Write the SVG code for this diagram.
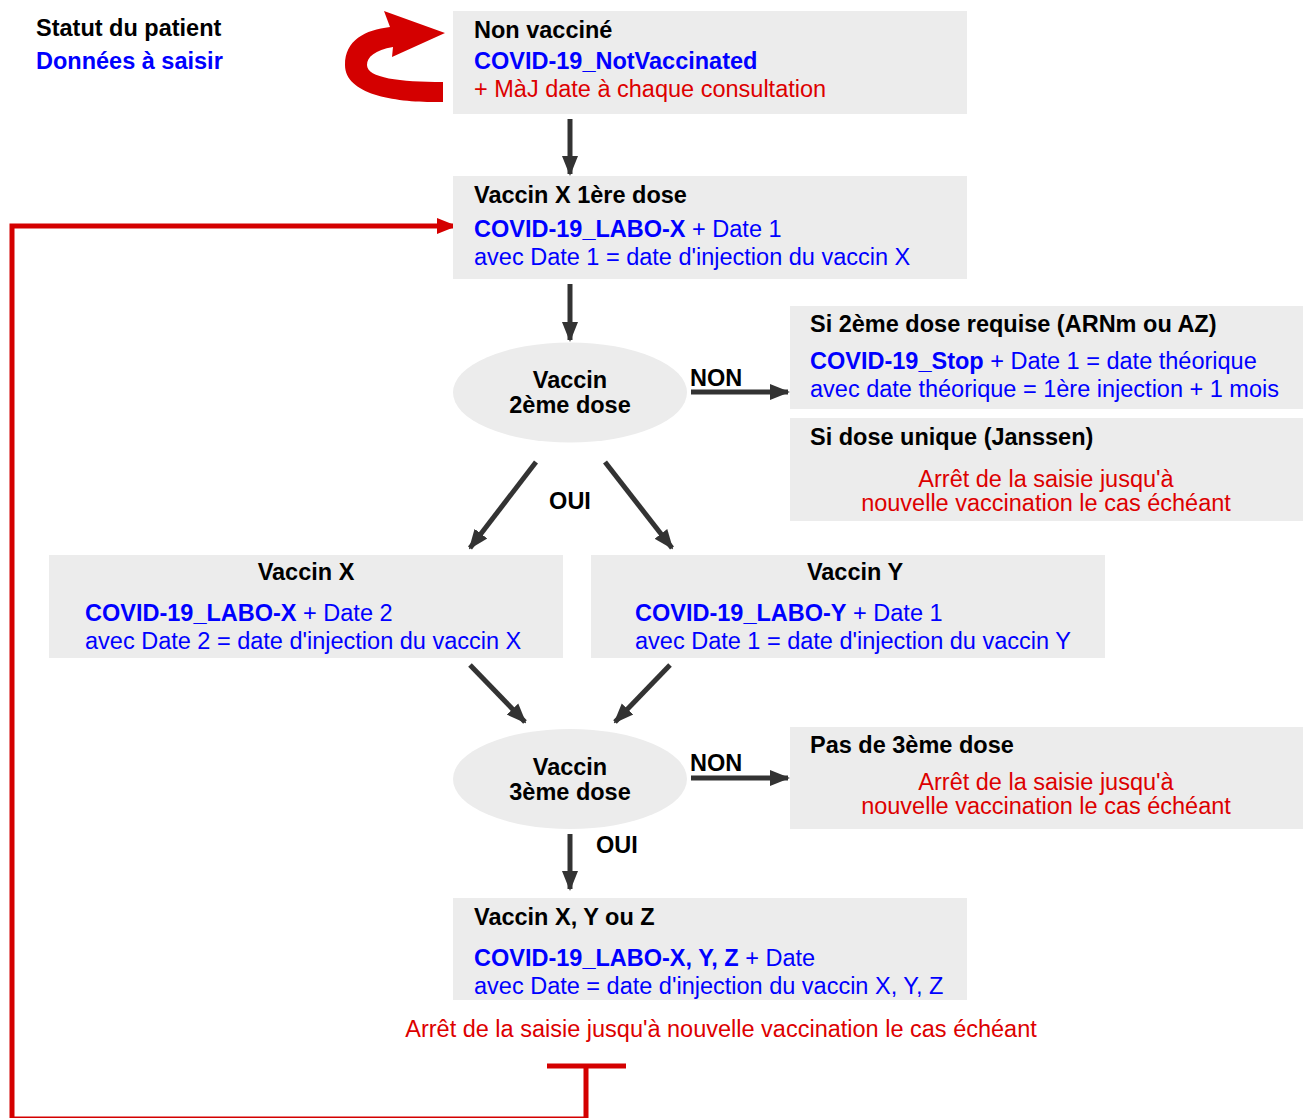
<svg xmlns="http://www.w3.org/2000/svg" width="1303" height="1118" viewBox="0 0 1303 1118">
<style>
text{font-family:"Liberation Sans",Arial,sans-serif;font-size:23.5px}
.b{font-weight:bold}
.k{fill:#000}
.bl{fill:#0000ff}
.r{fill:#dd0000}
.box{fill:#ececec}
.c{text-anchor:middle}
.dk{stroke:#333;stroke-width:5;fill:none}
.rl{stroke:#d40000;stroke-width:5;fill:none}
</style>
<defs>
<marker id="ah" markerUnits="userSpaceOnUse" markerWidth="20" markerHeight="20" viewBox="0 0 20 20" refX="18" refY="10" orient="auto">
<path d="M0,2 L20,10 L0,18 Z" fill="#333"/>
</marker>
<marker id="ahr" markerUnits="userSpaceOnUse" markerWidth="20" markerHeight="20" viewBox="0 0 20 20" refX="18" refY="10" orient="auto">
<path d="M0,2 L20,10 L0,18 Z" fill="#d40000"/>
</marker>
</defs>
<rect width="1303" height="1118" fill="#fff"/>

<g id="legend">
<text x="36" y="36" class="b k">Statut du patient</text>
<text x="36" y="69" class="b bl">Données à saisir</text>
</g>

<g id="loop-arrow">
<path d="M443,102 C400,103 345,96 345,65 C345,40 365,30 390,27 L384,11 L445,33 L392,57 L393,47 C375,50 367,57 367,65 C367,78 400,82 443,82 Z" fill="#d40000"/>
</g>

<g id="connectors">
<line x1="570" y1="119" x2="570" y2="174" class="dk" marker-end="url(#ah)"/>
<line x1="570" y1="284" x2="570" y2="340" class="dk" marker-end="url(#ah)"/>
<line x1="691" y1="392" x2="788" y2="392" class="dk" marker-end="url(#ah)"/>
<line x1="536" y1="462" x2="470" y2="548" class="dk" marker-end="url(#ah)"/>
<line x1="605" y1="462" x2="672" y2="548" class="dk" marker-end="url(#ah)"/>
<line x1="470" y1="665" x2="525" y2="722" class="dk" marker-end="url(#ah)"/>
<line x1="670" y1="665" x2="615" y2="722" class="dk" marker-end="url(#ah)"/>
<line x1="691" y1="778" x2="788" y2="778" class="dk" marker-end="url(#ah)"/>
<line x1="570" y1="834" x2="570" y2="889" class="dk" marker-end="url(#ah)"/>
<polyline points="586,1066 586,1119 12,1119 12,226 455,226" class="rl" marker-end="url(#ahr)"/>
<line x1="547" y1="1066" x2="626" y2="1066" class="rl"/>
<text x="690" y="386" class="b k">NON</text>
<text x="570" y="509" class="b k c">OUI</text>
<text x="690" y="771" class="b k">NON</text>
<text x="596" y="853" class="b k">OUI</text>
</g>

<g id="non-vaccine">
<rect x="453" y="11" width="514" height="103" class="box"/>
<text x="474" y="38" class="b k">Non vacciné</text>
<text x="474" y="69" class="b bl">COVID-19_NotVaccinated</text>
<text x="474" y="97" class="r">+ MàJ date à chaque consultation</text>
</g>

<g id="dose1">
<rect x="453" y="176" width="514" height="103" class="box"/>
<text x="474" y="203" class="b k">Vaccin X 1ère dose</text>
<text x="474" y="237" class="bl"><tspan class="b">COVID-19_LABO-X</tspan> + Date 1</text>
<text x="474" y="265" class="bl">avec Date 1 = date d'injection du vaccin X</text>
</g>

<g id="q-dose2">
<ellipse cx="570" cy="392.5" rx="117" ry="50" class="box"/>
<text x="570" y="388" class="b k c">Vaccin</text>
<text x="570" y="413" class="b k c">2ème dose</text>
</g>

<g id="dose2-requise">
<rect x="790" y="306" width="513" height="103" class="box"/>
<text x="810" y="332" class="b k">Si 2ème dose requise (ARNm ou AZ)</text>
<text x="810" y="369" class="bl"><tspan class="b">COVID-19_Stop</tspan> + Date 1 = date théorique</text>
<text x="810" y="397" class="bl">avec date théorique = 1ère injection + 1 mois</text>
</g>

<g id="dose-unique">
<rect x="790" y="418" width="513" height="103" class="box"/>
<text x="810" y="445" class="b k">Si dose unique (Janssen)</text>
<text x="1046" y="487" class="r c">Arrêt de la saisie jusqu'à</text>
<text x="1046" y="511" class="r c">nouvelle vaccination le cas échéant</text>
</g>

<g id="vaccin-x">
<rect x="49" y="555" width="514" height="103" class="box"/>
<text x="306" y="580" class="b k c">Vaccin X</text>
<text x="85" y="621" class="bl"><tspan class="b">COVID-19_LABO-X</tspan> + Date 2</text>
<text x="85" y="649" class="bl">avec Date 2 = date d'injection du vaccin X</text>
</g>

<g id="vaccin-y">
<rect x="591" y="555" width="514" height="103" class="box"/>
<text x="855" y="580" class="b k c">Vaccin Y</text>
<text x="635" y="621" class="bl"><tspan class="b">COVID-19_LABO-Y</tspan> + Date 1</text>
<text x="635" y="649" class="bl">avec Date 1 = date d'injection du vaccin Y</text>
</g>

<g id="q-dose3">
<ellipse cx="570" cy="779" rx="117" ry="50" class="box"/>
<text x="570" y="775" class="b k c">Vaccin</text>
<text x="570" y="800" class="b k c">3ème dose</text>
</g>

<g id="pas-dose3">
<rect x="790" y="727" width="513" height="102" class="box"/>
<text x="810" y="753" class="b k">Pas de 3ème dose</text>
<text x="1046" y="790" class="r c">Arrêt de la saisie jusqu'à</text>
<text x="1046" y="814" class="r c">nouvelle vaccination le cas échéant</text>
</g>

<g id="dose3">
<rect x="453" y="898" width="514" height="102" class="box"/>
<text x="474" y="925" class="b k">Vaccin X, Y ou Z</text>
<text x="474" y="966" class="bl"><tspan class="b">COVID-19_LABO-X, Y, Z</tspan> + Date</text>
<text x="474" y="994" class="bl">avec Date = date d'injection du vaccin X, Y, Z</text>
<text x="721" y="1037" class="r c">Arrêt de la saisie jusqu'à nouvelle vaccination le cas échéant</text>
</g>
</svg>
